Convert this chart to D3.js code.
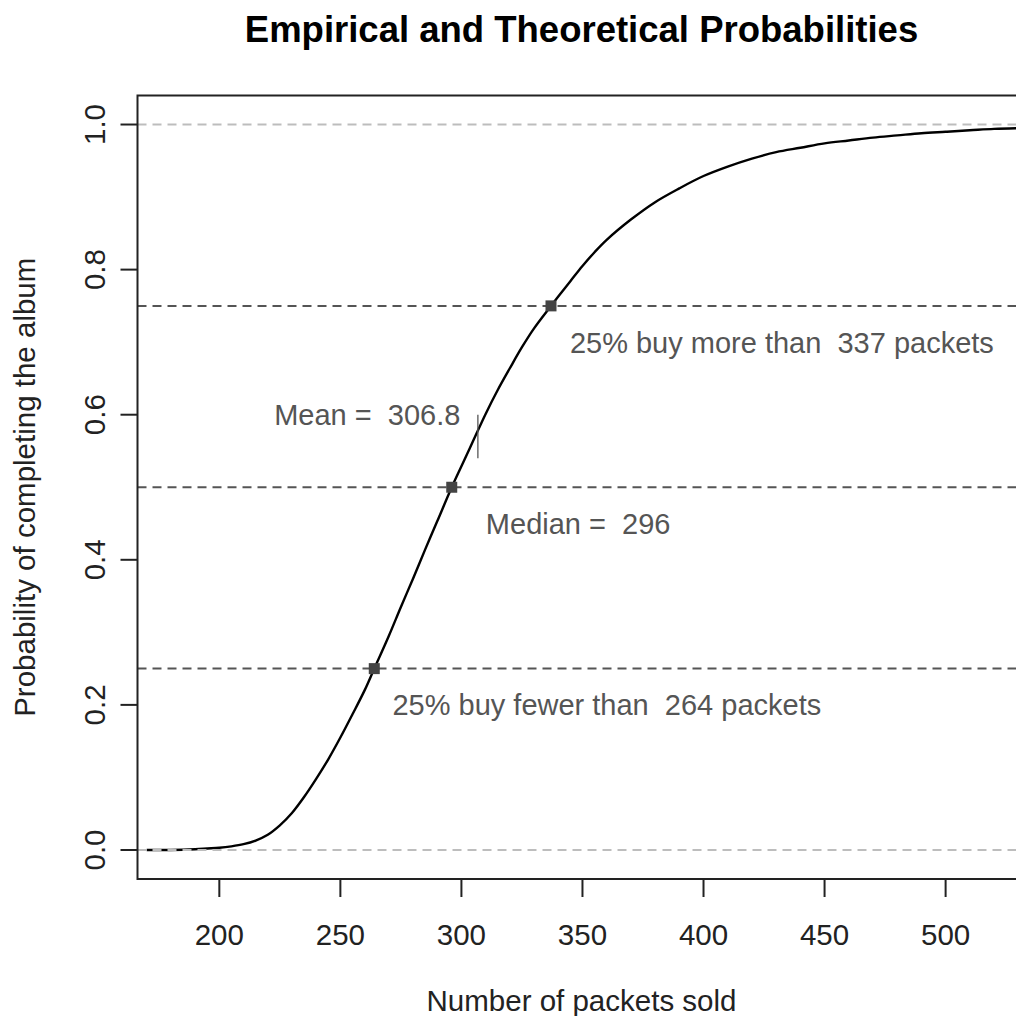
<!DOCTYPE html>
<html>
<head>
<meta charset="utf-8">
<script src="https://cdn.jsdelivr.net/npm/d3@7"></script>
<style>
  html, body { margin: 0; padding: 0; background: #fff; }
  svg { display: block; }
  text { font-family: "Liberation Sans", Arial, Helvetica, sans-serif; }
</style>
</head>
<body>
<svg id="chart" width="1016" height="1016"></svg>
<script>
// ---- data ----
const packets = [170,180,190,195,200,205,210,215,220,225,230,235,240,245,250,255,260,264,270,275,280,285,290,296,300,305,310,315,320,325,330,337,340,345,350,355,360,370,380,390,400,410,420,430,440,450,460,470,480,490,500,510,520,530];
const probability = [0.000,0.000,0.001,0.002,0.003,0.005,0.008,0.013,0.021,0.034,0.051,0.073,0.098,0.125,0.155,0.187,0.220,0.250,0.295,0.335,0.374,0.414,0.453,0.500,0.529,0.565,0.601,0.634,0.664,0.693,0.719,0.750,0.763,0.784,0.805,0.824,0.841,0.869,0.893,0.912,0.929,0.942,0.953,0.962,0.968,0.974,0.978,0.982,0.985,0.988,0.990,0.992,0.994,0.995];

const xTicks = [200,250,300,350,400,450,500];
const yTicks = [0,0.2,0.4,0.6,0.8,1.0];
const yTickLabels = ["0.0","0.2","0.4","0.6","0.8","1.0"];

const quartileProbs = [0.25,0.5,0.75];
const quartilePackets = [264,296,337];
const refLines = [0,1];

const meanValue = 306.8;
const meanSpan = [0.54,0.60];

const annotationTexts = ["25% buy fewer than  264 packets","Median =  296","25% buy more than  337 packets","Mean =  306.8"];
const annotationX = [271.5,310.1,344.8,299.6];
const annotationY = [0.20,0.45,0.70,0.60];
const annotationAnchor = ["start","start","start","end"];

const titleText = "Empirical and Theoretical Probabilities";
const xLabel = "Number of packets sold";
const yLabel = "Probability of completing the album";

// ---- layout ----
const svg = d3.select("#chart");
const plot = {left: 137.5, right: 1025.5, top: 95.5, bottom: 879};
const x = d3.scaleLinear().domain([166.2, 533.0]).range([plot.left, plot.right]);
const y = d3.scaleLinear().domain([-0.04, 1.04]).range([plot.bottom, plot.top]);

svg.append("defs").append("clipPath").attr("id","clip")
  .append("rect").attr("x",plot.left).attr("y",plot.top)
  .attr("width",plot.right-plot.left).attr("height",plot.bottom-plot.top);

const g = svg.append("g").attr("clip-path","url(#clip)");

// curve
const pts = packets.map((p,i)=>[p, probability[i]]);
const line = d3.line().x(d=>x(d[0])).y(d=>y(d[1])).curve(d3.curveCatmullRom.alpha(0.5));
g.append("path").datum(pts).attr("d",line)
  .attr("fill","none").attr("stroke","#000").attr("stroke-width",2.4);

// reference dashed lines (light gray)
g.selectAll("line.ref").data(refLines).join("line").attr("class","ref")
  .attr("x1",plot.left).attr("x2",plot.right)
  .attr("y1",d=>y(d)).attr("y2",d=>y(d))
  .attr("stroke","#bdbdbd").attr("stroke-width",2).attr("stroke-dasharray","9,6");

// quartile dashed lines (dark gray)
g.selectAll("line.q").data(quartileProbs).join("line").attr("class","q")
  .attr("x1",plot.left).attr("x2",plot.right)
  .attr("y1",d=>y(d)).attr("y2",d=>y(d))
  .attr("stroke","#555").attr("stroke-width",2).attr("stroke-dasharray","9,6");

// quartile markers
const sq = 11;
g.selectAll("rect.m").data(quartilePackets).join("rect").attr("class","m")
  .attr("x",(d,i)=>x(d)-sq/2).attr("y",(d,i)=>y(quartileProbs[i])-sq/2)
  .attr("width",sq).attr("height",sq).attr("fill","#444");

// mean tick
g.append("line")
  .attr("x1",x(meanValue)).attr("x2",x(meanValue))
  .attr("y1",y(meanSpan[0])).attr("y2",y(meanSpan[1]))
  .attr("stroke","#555").attr("stroke-width",1.3);

// annotations
svg.selectAll("text.ann").data(annotationTexts).join("text").attr("class","ann")
  .attr("x",(d,i)=>x(annotationX[i])).attr("y",(d,i)=>y(annotationY[i]))
  .attr("dy","0.36em")
  .attr("text-anchor",(d,i)=>annotationAnchor[i])
  .attr("font-size",29).attr("fill","#555")
  .style("white-space","pre").attr("xml:space","preserve")
  .text(d=>d);

// box
svg.append("rect").attr("x",plot.left).attr("y",plot.top)
  .attr("width",plot.right-plot.left).attr("height",plot.bottom-plot.top)
  .attr("fill","none").attr("stroke","#222").attr("stroke-width",2);

// x axis
const xAxis = svg.append("g");
xAxis.selectAll("line").data(xTicks).join("line")
  .attr("x1",d=>x(d)).attr("x2",d=>x(d)).attr("y1",plot.bottom).attr("y2",plot.bottom+18)
  .attr("stroke","#222").attr("stroke-width",2);
xAxis.selectAll("text").data(xTicks).join("text")
  .attr("x",d=>x(d)).attr("y",945).attr("text-anchor","middle")
  .attr("font-size",29.5).attr("fill","#222").text(d=>d);

// y axis
const yAxis = svg.append("g");
yAxis.selectAll("line").data(yTicks).join("line")
  .attr("x1",plot.left-17).attr("x2",plot.left).attr("y1",d=>y(d)).attr("y2",d=>y(d))
  .attr("stroke","#222").attr("stroke-width",2);
yAxis.selectAll("text").data(yTicks).join("text")
  .attr("transform",d=>`translate(105,${y(d)}) rotate(-90)`)
  .attr("text-anchor","middle").attr("font-size",29.5).attr("fill","#222")
  .text((d,i)=>yTickLabels[i]);

// labels
svg.append("text").attr("x",(plot.left+plot.right)/2).attr("y",1011)
  .attr("text-anchor","middle").attr("font-size",29.5).attr("fill","#222").text(xLabel);
svg.append("text").attr("transform",`translate(35,${(plot.top+plot.bottom)/2}) rotate(-90)`)
  .attr("text-anchor","middle").attr("font-size",29.5).attr("fill","#222").text(yLabel);
svg.append("text").attr("x",(plot.left+plot.right)/2).attr("y",42)
  .attr("text-anchor","middle").attr("font-size",36.5).attr("font-weight","bold").attr("fill","#000").text(titleText);
</script>
</body>
</html>
